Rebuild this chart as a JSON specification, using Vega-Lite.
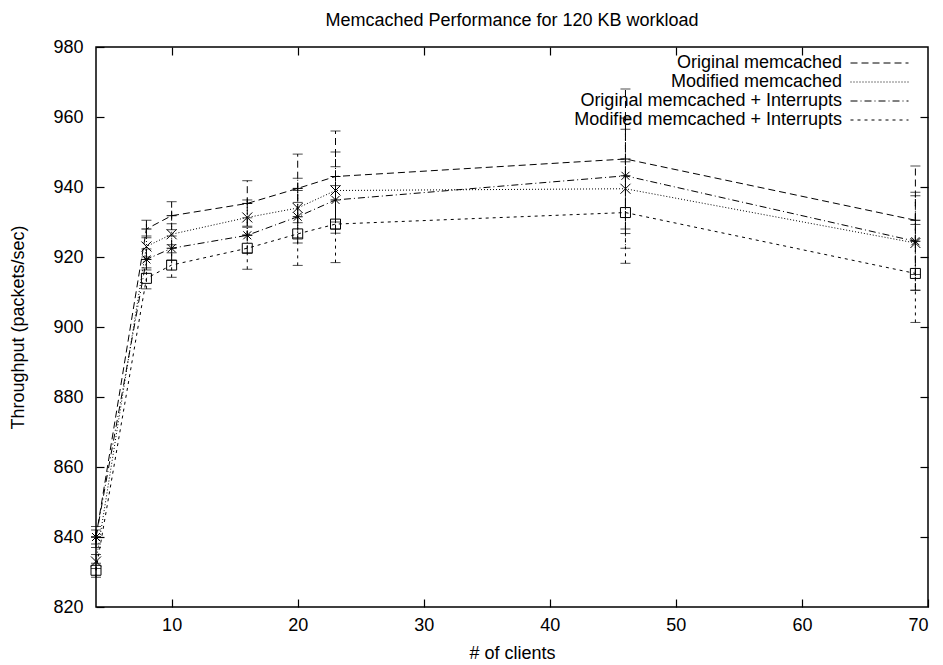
{
  "$schema": "https://vega.github.io/schema/vega-lite/v6.json",
  "width": 832,
  "height": 560,
  "autosize": {"type": "none"},
  "padding": {"left": 96, "top": 47, "right": 15, "bottom": 58},
  "background": "white",
  "title": {"text": "Memcached Performance for 120 KB workload", "fontSize": 18, "fontWeight": "normal", "font": "Liberation Sans", "color": "black", "offset": 8},
  "config": {
    "font": "Liberation Sans",
    "view": {"stroke": "black", "strokeWidth": 1.5},
    "axis": {"labelFontSize": 18, "titleFontSize": 18, "titleFontWeight": "normal", "labelColor": "black", "titleColor": "black", "tickColor": "black", "domain": false, "grid": false, "tickSize": -8, "tickWidth": 1.2, "labelFont": "Liberation Sans", "titleFont": "Liberation Sans"},
    "legend": {"orient": "none", "legendX": 753, "legendY": 7, "symbolType": "stroke", "symbolSize": 3364, "symbolStrokeWidth": 1, "symbolStrokeColor": "black", "labelAlign": "right", "labelOffset": -67, "symbolOffset": 1, "labelFontSize": 18, "labelFont": "Liberation Sans", "labelLimit": 500, "rowPadding": 1, "labelColor": "black"}
  },
  "data": {"values": [
    {"clients": 4, "series": "Original memcached", "tput": 840, "lo": 837, "hi": 843},
    {"clients": 8, "series": "Original memcached", "tput": 928, "lo": 925.5, "hi": 930.5},
    {"clients": 10, "series": "Original memcached", "tput": 931.8, "lo": 927.8, "hi": 935.8},
    {"clients": 16, "series": "Original memcached", "tput": 935.3, "lo": 928.8, "hi": 941.8},
    {"clients": 20, "series": "Original memcached", "tput": 939.6, "lo": 929.8, "hi": 949.4},
    {"clients": 23, "series": "Original memcached", "tput": 943, "lo": 930, "hi": 956},
    {"clients": 46, "series": "Original memcached", "tput": 948, "lo": 928, "hi": 968},
    {"clients": 69, "series": "Original memcached", "tput": 930.5, "lo": 915, "hi": 946},
    {"clients": 4, "series": "Modified memcached", "tput": 833, "lo": 831, "hi": 835},
    {"clients": 8, "series": "Modified memcached", "tput": 923, "lo": 920, "hi": 926},
    {"clients": 10, "series": "Modified memcached", "tput": 926.5, "lo": 923.5, "hi": 929.5},
    {"clients": 16, "series": "Modified memcached", "tput": 931.3, "lo": 926.3, "hi": 936.3},
    {"clients": 20, "series": "Modified memcached", "tput": 934, "lo": 925.5, "hi": 942.5},
    {"clients": 23, "series": "Modified memcached", "tput": 939, "lo": 928, "hi": 950},
    {"clients": 46, "series": "Modified memcached", "tput": 939.5, "lo": 922.5, "hi": 956.5},
    {"clients": 69, "series": "Modified memcached", "tput": 924, "lo": 910.5, "hi": 937.5},
    {"clients": 4, "series": "Original memcached + Interrupts", "tput": 840, "lo": 838, "hi": 842},
    {"clients": 8, "series": "Original memcached + Interrupts", "tput": 919.3, "lo": 916.3, "hi": 922.3},
    {"clients": 10, "series": "Original memcached + Interrupts", "tput": 922.5, "lo": 919, "hi": 926},
    {"clients": 16, "series": "Original memcached + Interrupts", "tput": 926.2, "lo": 921.2, "hi": 931.2},
    {"clients": 20, "series": "Original memcached + Interrupts", "tput": 931.5, "lo": 924, "hi": 939},
    {"clients": 23, "series": "Original memcached + Interrupts", "tput": 936.3, "lo": 926.8, "hi": 945.8},
    {"clients": 46, "series": "Original memcached + Interrupts", "tput": 943.2, "lo": 926.7, "hi": 959.7},
    {"clients": 69, "series": "Original memcached + Interrupts", "tput": 924.5, "lo": 910.5, "hi": 938.5},
    {"clients": 4, "series": "Modified memcached + Interrupts", "tput": 830.5, "lo": 828.5, "hi": 832.5},
    {"clients": 8, "series": "Modified memcached + Interrupts", "tput": 913.9, "lo": 910.9, "hi": 916.9},
    {"clients": 10, "series": "Modified memcached + Interrupts", "tput": 917.7, "lo": 914.2, "hi": 921.2},
    {"clients": 16, "series": "Modified memcached + Interrupts", "tput": 922.5, "lo": 916.5, "hi": 928.5},
    {"clients": 20, "series": "Modified memcached + Interrupts", "tput": 926.6, "lo": 917.6, "hi": 935.6},
    {"clients": 23, "series": "Modified memcached + Interrupts", "tput": 929.4, "lo": 918.4, "hi": 940.4},
    {"clients": 46, "series": "Modified memcached + Interrupts", "tput": 932.7, "lo": 918.2, "hi": 947.2},
    {"clients": 69, "series": "Modified memcached + Interrupts", "tput": 915.3, "lo": 901.3, "hi": 929.3}
  ]},
  "resolve": {"axis": {"x": "independent", "y": "independent"}, "scale": {"shape": "independent"}, "legend": {"shape": "independent", "strokeDash": "independent"}},
  "layer": [
    {
      "mark": {"type": "line", "strokeWidth": 1, "color": "black"},
      "encoding": {
        "x": {"field": "clients", "type": "quantitative", "scale": {"domain": [4, 70], "nice": false, "zero": false}, "axis": {"orient": "bottom", "values": [10, 20, 30, 40, 50, 60, 70], "title": "# of clients", "labelPadding": 17, "titlePadding": 10}},
        "y": {"field": "tput", "type": "quantitative", "scale": {"domain": [820, 980], "nice": false, "zero": false}, "axis": {"orient": "left", "values": [820, 840, 860, 880, 900, 920, 940, 960, 980], "title": "Throughput (packets/sec)", "labelPadding": 21, "titlePadding": 25}},
        "strokeDash": {"field": "series", "type": "nominal", "scale": {"domain": ["Original memcached", "Modified memcached", "Original memcached + Interrupts", "Modified memcached + Interrupts"], "range": [[7, 4], [1, 2], [7, 3, 1, 3], [3, 4]]}, "legend": {"title": null, "encode": {"symbols": {"update": {"y": {"value": 9}}}, "labels": {"update": {"y": {"value": 9}}}}}},
        "detail": {"field": "series"}
      }
    },
    {
      "mark": {"type": "rule", "strokeWidth": 1, "color": "black"},
      "encoding": {
        "x": {"field": "clients", "type": "quantitative", "axis": null},
        "y": {"field": "lo", "type": "quantitative", "axis": null},
        "y2": {"field": "hi"},
        "strokeDash": {"field": "series", "type": "nominal", "legend": null}
      }
    },
    {
      "mark": {"type": "tick", "orient": "horizontal", "thickness": 1, "color": "black"},
      "encoding": {
        "x": {"field": "clients", "type": "quantitative", "axis": null},
        "y": {"field": "lo", "type": "quantitative", "axis": null},
        "size": {"value": 10}
      }
    },
    {
      "mark": {"type": "tick", "orient": "horizontal", "thickness": 1, "color": "black"},
      "encoding": {
        "x": {"field": "clients", "type": "quantitative", "axis": null},
        "y": {"field": "hi", "type": "quantitative", "axis": null},
        "size": {"value": 10}
      }
    },
    {
      "mark": {"type": "point", "filled": false, "stroke": "black", "strokeWidth": 1, "opacity": 1},
      "encoding": {
        "x": {"field": "clients", "type": "quantitative", "axis": {"orient": "top", "values": [10, 20, 30, 40, 50, 60], "labels": false, "title": null}},
        "y": {"field": "tput", "type": "quantitative", "axis": {"orient": "right", "values": [840, 860, 880, 900, 920, 940, 960], "labels": false, "title": null}},
        "shape": {"field": "series", "type": "nominal", "scale": {"domain": ["Original memcached", "Modified memcached", "Original memcached + Interrupts", "Modified memcached + Interrupts"], "range": ["M-1,0L1,0M0,-1L0,1", "M-1,-1L1,1M-1,1L1,-1", "M-1,0L1,0M0,-1L0,1M-0.8,-0.8L0.8,0.8M-0.8,0.8L0.8,-0.8", "square"]}, "legend": null},
        "size": {"value": 100}
      }
    }
  ]
}
